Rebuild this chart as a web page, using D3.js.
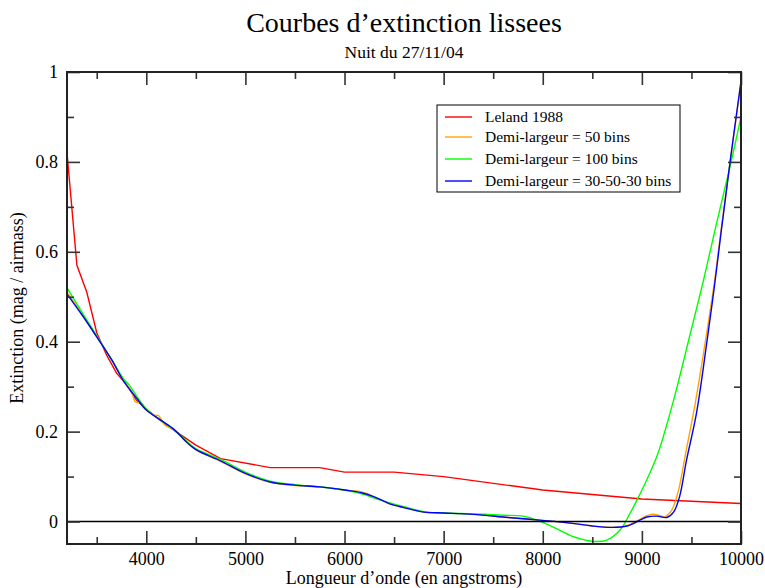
<!DOCTYPE html>
<html>
<head>
<meta charset="utf-8">
<script src="https://cdn.jsdelivr.net/npm/d3@7"></script>
<style>
  body { margin: 0; background: #fff; }
  text { font-family: "Liberation Serif", "Times New Roman", serif; fill: #000; }
</style>
</head>
<body>
<div id="chart"></div>
<script>
// donnees
var leland = [[3200,0.82],[3300,0.57],[3400,0.51],[3500,0.42],[3600,0.37],[3700,0.33],[3800,0.305],
  [3900,0.27],[4000,0.25],[4200,0.215],[4500,0.17],[4750,0.14],[5250,0.12],[5750,0.12],[6000,0.11],
  [6500,0.11],[7000,0.10],[8000,0.07],[9000,0.05],[10000,0.04]];

var bins50 = [[3200,0.51],[3350,0.462],[3500,0.411],[3650,0.36],[3775,0.311],[3850,0.29],[3890,0.266],
  [3950,0.264],[4000,0.249],[4080,0.236],[4120,0.236],[4190,0.214],[4280,0.204],[4400,0.178],[4500,0.160],
  [4750,0.134],[5000,0.106],[5250,0.087],[5500,0.080],[5750,0.077],[6000,0.070],[6170,0.066],[6250,0.060],
  [6450,0.040],[6600,0.031],[6800,0.021],[7000,0.019],[7300,0.016],[7650,0.009],[7970,0.003],[8300,-0.004],
  [8500,-0.010],[8700,-0.013],[8850,-0.009],[8980,0.005],[9050,0.013],[9130,0.016],[9230,0.011],
  [9300,0.025],[9370,0.07],[9440,0.15],[9540,0.265],[9640,0.40],[9730,0.53],[9800,0.65],[9890,0.80],
  [10000,0.975]];

var bins100 = [[3200,0.52],[3350,0.466],[3500,0.413],[3650,0.36],[3780,0.315],[3830,0.303],[3900,0.28],
  [4000,0.25],[4150,0.225],[4300,0.200],[4500,0.162],[4750,0.138],[5000,0.110],[5250,0.090],[5500,0.082],
  [5750,0.077],[6000,0.070],[6200,0.060],[6300,0.052],[6450,0.042],[6600,0.033],[6800,0.022],[7000,0.019],
  [7300,0.017],[7600,0.014],[7800,0.012],[7970,0.001],[8140,-0.016],[8300,-0.033],[8500,-0.044],
  [8640,-0.042],[8780,-0.019],[8880,0.018],[8960,0.052],[9060,0.098],[9160,0.150],[9320,0.270],
  [9485,0.415],[9620,0.535],[9755,0.665],[9890,0.79],[10000,0.90]];

var bins305030 = [[3200,0.506],[3350,0.46],[3500,0.411],[3650,0.36],[3775,0.311],[3900,0.275],
  [4000,0.248],[4150,0.225],[4280,0.205],[4400,0.178],[4500,0.160],[4750,0.135],[5000,0.107],[5250,0.088],
  [5500,0.081],[5750,0.077],[6000,0.070],[6170,0.064],[6300,0.055],[6450,0.040],[6600,0.031],[6800,0.021],
  [7000,0.019],[7300,0.016],[7650,0.009],[7970,0.003],[8300,-0.004],[8500,-0.010],[8700,-0.013],
  [8850,-0.010],[8980,0.003],[9050,0.010],[9150,0.012],[9250,0.009],[9320,0.021],[9380,0.055],
  [9450,0.136],[9550,0.240],[9650,0.39],[9730,0.52],[9800,0.645],[9890,0.80],[10000,0.98]];

var seriesNames = ["Leland 1988","Demi-largeur = 50 bins","Demi-largeur = 100 bins","Demi-largeur = 30-50-30 bins"];
var seriesColors = ["#ff0000","#ffa500","#00ff00","#0000ff"];
var xMajor = [4000,5000,6000,7000,8000,9000,10000];
var xMinor = [3500,4500,5500,6500,7500,8500,9500];
var yMajor = [0,0.2,0.4,0.6,0.8,1];
var yMinor = [0.1,0.3,0.5,0.7,0.9];

var width=765,height=588,
    margin={left:67,top:72,right:24,bottom:44};
var w=width-margin.left-margin.right,
    h=height-margin.top-margin.bottom;

var svg=d3.select('#chart').append('svg')
    .attr('width',width)
    .attr('height',height);

var x=d3.scaleLinear().domain([3200,10000]).range([0,w]);
var y=d3.scaleLinear().domain([-0.05,1]).range([h,0]);

var g=svg.append('g').attr('transform','translate('+margin.left+','+margin.top+')');

// titres
svg.append('text').attr('x',margin.left+w/2).attr('y',32)
   .attr('text-anchor','middle').style('font-size','28px').text('Courbes d\u2019extinction lissees');
svg.append('text').attr('x',margin.left+w/2).attr('y',58)
   .attr('text-anchor','middle').style('font-size','17.5px').text('Nuit du 27/11/04');

// courbes
var line=d3.line().x(function(d){return x(d[0]);}).y(function(d){return y(d[1]);});
var allSeries=[leland,bins50,bins100,bins305030];
allSeries.forEach(function(s,i){
  g.append('path').datum(s)
   .attr('fill','none')
   .attr('stroke',seriesColors[i])
   .attr('stroke-width',1.4)
   .attr('d',line.curve(i==0?d3.curveLinear:d3.curveCatmullRom.alpha(0.5)));
});

// ligne zero
g.append('line').attr('x1',0).attr('x2',w).attr('y1',y(0)).attr('y2',y(0))
 .attr('stroke','#000').attr('stroke-width',1.5);

// axes, graduations vers l'interieur
function style(sel){
  sel.select('.domain').remove();
  sel.selectAll('line').attr('stroke','#333').attr('stroke-width',1.6);
  sel.selectAll('text').style('font-size','18px').style('font-family','"Liberation Serif", serif');
}
g.append('g').attr('transform','translate(0,'+h+')')
 .call(d3.axisBottom(x).tickValues(xMajor).tickSize(-13).tickPadding(8).tickFormat(d3.format('d'))).call(style);
g.append('g').attr('transform','translate(0,'+h+')')
 .call(d3.axisBottom(x).tickValues(xMinor).tickSize(-7).tickFormat('')).call(style);
g.append('g')
 .call(d3.axisTop(x).tickValues(xMajor).tickSize(-13).tickFormat('')).call(style);
g.append('g')
 .call(d3.axisTop(x).tickValues(xMinor).tickSize(-7).tickFormat('')).call(style);
g.append('g')
 .call(d3.axisLeft(y).tickValues(yMajor).tickSize(-13).tickPadding(9).tickFormat(function(d){return d3.format('')(+d.toFixed(1));})).call(style);
g.append('g')
 .call(d3.axisLeft(y).tickValues(yMinor).tickSize(-7).tickFormat('')).call(style);
g.append('g').attr('transform','translate('+w+',0)')
 .call(d3.axisRight(y).tickValues(yMajor).tickSize(-13).tickFormat('')).call(style);
g.append('g').attr('transform','translate('+w+',0)')
 .call(d3.axisRight(y).tickValues(yMinor).tickSize(-7).tickFormat('')).call(style);

// cadre
g.append('rect').attr('width',w).attr('height',h)
 .attr('fill','none').attr('stroke','#222').attr('stroke-width',2);

// titres des axes
svg.append('text').attr('x',margin.left+w/2).attr('y',584)
   .attr('text-anchor','middle').style('font-size','18px').text('Longueur d\u2019onde (en angstroms)');
svg.append('text').attr('transform','translate(23,'+(margin.top+h/2)+') rotate(-90)')
   .attr('text-anchor','middle').style('font-size','18px').text('Extinction (mag / airmass)');

// legende
var leg=svg.append('g');
leg.append('rect').attr('x',437).attr('y',105).attr('width',243).attr('height',87)
   .attr('fill','#fff').attr('stroke','#000').attr('stroke-width',1);
var rowY=[117,137,159,181];
seriesNames.forEach(function(n,i){
  leg.append('line').attr('x1',445).attr('x2',472).attr('y1',rowY[i]).attr('y2',rowY[i])
     .attr('stroke',seriesColors[i]).attr('stroke-width',1.4);
  leg.append('text').attr('x',485).attr('y',rowY[i]).attr('dy','0.33em')
     .style('font-size','15.5px').text(n);
});
</script>
</body>
</html>
